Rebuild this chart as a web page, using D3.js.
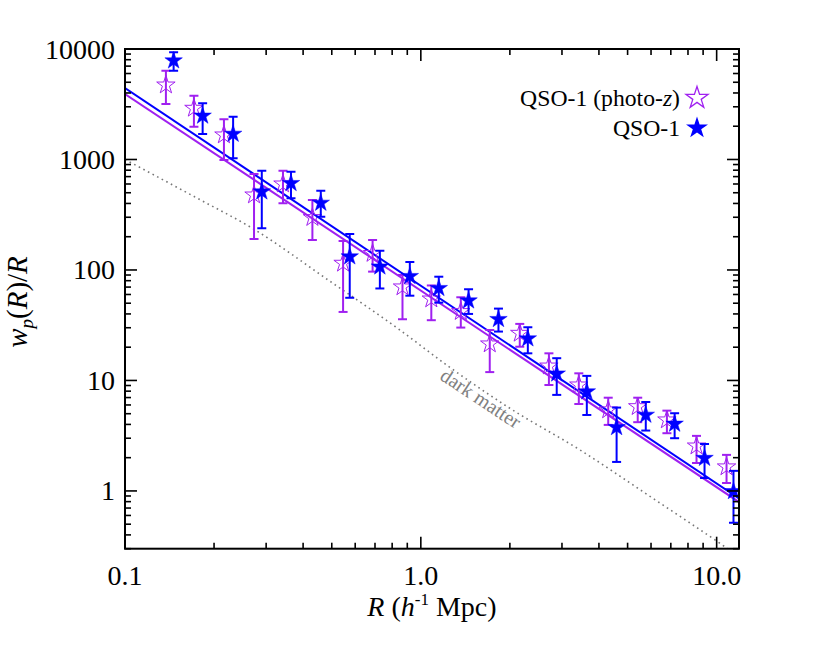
<!DOCTYPE html>
<html>
<head>
<meta charset="utf-8">
<script src="https://cdn.jsdelivr.net/npm/d3@7"></script>
<style>
body { margin: 0; background: #fff; }
svg text { font-family: "Liberation Serif", "Times New Roman", Times, "DejaVu Serif", serif; }
</style>
</head>
<body>
<svg width="830" height="662" font-family="Liberation Serif, Times New Roman, serif"></svg>
<script>
// QSO-1 (filled blue stars)
var qsoR  = [0.146, 0.183, 0.232, 0.290, 0.364, 0.459, 0.575, 0.727, 0.918, 1.15, 1.45, 1.83, 2.30, 2.88, 3.64, 4.59, 5.76, 7.21, 9.10, 11.4];
var qsoW  = [7840, 2480, 1700, 511, 609, 404, 132, 107, 87.7, 68.3, 52.7, 35.8, 23.9, 11.5, 7.92, 3.76, 4.87, 4.04, 1.98, 0.99];
var qsoLo = [6360, 1700, 1025, 238, 446, 303, 56, 68, 58.5, 50.6, 40, 27.7, 17.6, 7.4, 4.87, 1.83, 3.52, 3.0, 1.31, 0.516];
var qsoHi = [9330, 3226, 2440, 792, 776, 522, 212, 149, 118, 86.9, 66.9, 44.7, 30.3, 15.9, 11.0, 5.68, 6.38, 5.05, 2.66, 1.52];

// QSO-1 photo-z (open purple stars)
var photR  = [0.1375, 0.171, 0.216, 0.273, 0.342, 0.430, 0.546, 0.687, 0.867, 1.085, 1.365, 1.71, 2.16, 2.71, 3.42, 4.30, 5.41, 6.79, 8.55, 10.8];
var photW  = [4720, 2906, 1667, 477, 600, 298, 115, 141, 70.2, 54.6, 42.0, 21.4, 26.7, 13.5, 9.1, 5.41, 5.79, 4.39, 2.55, 1.65];
var photLo = [3180, 1980, 989, 191, 402, 187, 41.7, 96.6, 35.8, 35.1, 30.1, 11.9, 20.2, 9.1, 6.12, 3.96, 4.19, 3.33, 1.79, 1.18];
var photHi = [6360, 3780, 2310, 739, 792, 430, 183, 187, 90.1, 72.4, 56.6, 28.6, 32.5, 17.6, 11.6, 6.98, 6.98, 5.33, 3.15, 2.12];

// power-law fits, end points [R, wp/R]
var qsoFit  = [[0.1, 4436], [11.9, 0.855]];
var photFit = [[0.1, 3917], [11.9, 0.793]];

// dark matter curve
var dmR = [0.1, 0.18, 0.265, 0.5, 0.85, 1.25, 2.0, 3.45, 6.0, 10.8, 12];
var dmW = [1000, 430, 245, 77, 28.6, 13.2, 5.6, 2.35, 0.88, 0.305, 0.25];

var xTicks = [0.1, 1, 10];
var xTickLabels = ["0.1", "1.0", "10.0"];
var yTicks = [1, 10, 100, 1000, 10000];
var yTickLabels = ["1", "10", "100", "1000", "10000"];

var blue = "#0000ff",
    purple = "#a020f0";

var svg = d3.select("svg");

var x = d3.scaleLog().domain([0.1, 11.9]).range([125, 739]);
var y = d3.scaleLog().domain([0.3, 10000]).range([548.7, 49]);

var x0 = x.range()[0], x1 = x.range()[1],
    yb = y.range()[0], yt = y.range()[1];

svg.append("clipPath").attr("id", "plotclip")
    .append("rect")
    .attr("x", x0).attr("y", yt)
    .attr("width", x1 - x0).attr("height", yb - yt);

var plot = svg.append("g").attr("clip-path", "url(#plotclip)");

// minor tick values
var xMinor = [], yMinor = [];
[0.1, 1].forEach(function(dec) {
    for (var m = 2; m <= 9; m++) xMinor.push(m * dec);
});
[0.1, 1, 10, 100, 1000].forEach(function(dec) {
    for (var m = 2; m <= 9; m++) {
        var v = m * dec;
        if (v >= 0.3 && v < 10000) yMinor.push(v);
    }
});

var ticks = svg.append("g")
    .attr("stroke", "#000")
    .attr("stroke-width", 1.6);

function xtick(v, len) {
    ticks.append("line").attr("x1", x(v)).attr("x2", x(v)).attr("y1", yb).attr("y2", yb - len);
    ticks.append("line").attr("x1", x(v)).attr("x2", x(v)).attr("y1", yt).attr("y2", yt + len);
}
function ytick(v, len) {
    ticks.append("line").attr("y1", y(v)).attr("y2", y(v)).attr("x1", x0).attr("x2", x0 + len);
    ticks.append("line").attr("y1", y(v)).attr("y2", y(v)).attr("x1", x1).attr("x2", x1 - len);
}
xTicks.forEach(function(v) { xtick(v, 12); });
xMinor.forEach(function(v) { xtick(v, 6); });
yTicks.forEach(function(v) { ytick(v, 12); });
yMinor.forEach(function(v) { ytick(v, 6); });

// tick labels
svg.append("g").selectAll("text")
    .data(xTicks)
    .enter().append("text")
    .attr("x", function(d) { return x(d); })
    .attr("y", 585)
    .attr("text-anchor", "middle")
    .attr("font-size", 28)
    .text(function(d, i) { return xTickLabels[i]; });

svg.append("g").selectAll("text")
    .data(yTicks)
    .enter().append("text")
    .attr("x", 115)
    .attr("y", function(d) { return y(d) + 9.5; })
    .attr("text-anchor", "end")
    .attr("font-size", 28)
    .text(function(d, i) { return yTickLabels[i]; });

// dark matter dotted curve
var line = d3.line()
    .x(function(d) { return x(d[0]); })
    .y(function(d) { return y(d[1]); });

plot.append("path")
    .datum(dmR.map(function(r, i) { return [r, dmW[i]]; }))
    .attr("d", line.curve(d3.curveMonotoneX))
    .attr("fill", "none")
    .attr("stroke", "#777")
    .attr("stroke-width", 1.6)
    .attr("stroke-dasharray", "1.6,3.6");

line.curve(d3.curveLinear);

plot.append("path")
    .datum(photFit)
    .attr("d", line)
    .attr("fill", "none")
    .attr("stroke", purple)
    .attr("stroke-width", 2);

plot.append("path")
    .datum(qsoFit)
    .attr("d", line)
    .attr("fill", "none")
    .attr("stroke", blue)
    .attr("stroke-width", 2);

// error bars + stars
function drawSeries(R, W, lo, hi, color, filled) {
    var pts = R.map(function(r, i) { return {r: r, w: W[i], lo: lo[i], hi: hi[i]}; });
    var g = plot.append("g");
    var eb = g.selectAll("g.eb")
        .data(pts)
        .enter().append("g")
        .attr("class", "eb")
        .attr("stroke", color)
        .attr("stroke-width", 2);
    eb.append("line")
        .attr("x1", function(d) { return x(d.r); })
        .attr("x2", function(d) { return x(d.r); })
        .attr("y1", function(d) { return y(d.lo); })
        .attr("y2", function(d) { return y(d.hi); });
    eb.append("line")
        .attr("x1", function(d) { return x(d.r) - 4.5; })
        .attr("x2", function(d) { return x(d.r) + 4.5; })
        .attr("y1", function(d) { return y(d.lo); })
        .attr("y2", function(d) { return y(d.lo); });
    eb.append("line")
        .attr("x1", function(d) { return x(d.r) - 4.5; })
        .attr("x2", function(d) { return x(d.r) + 4.5; })
        .attr("y1", function(d) { return y(d.hi); })
        .attr("y2", function(d) { return y(d.hi); });

    g.selectAll("path.star")
        .data(pts)
        .enter().append("path")
        .attr("class", "star")
        .attr("transform", function(d) { return "translate(" + x(d.r) + "," + y(d.w) + ")"; })
        .attr("d", d3.symbol().type(d3.symbolStar).size(filled ? 95 : 105))
        .attr("fill", filled ? color : "none")
        .attr("stroke", color)
        .attr("stroke-width", filled ? 0.5 : 1);
}

drawSeries(photR, photW, photLo, photHi, purple, false);
drawSeries(qsoR, qsoW, qsoLo, qsoHi, blue, true);

// frame
svg.append("rect")
    .attr("x", x0).attr("y", yt)
    .attr("width", x1 - x0).attr("height", yb - yt)
    .attr("fill", "none")
    .attr("stroke", "#000")
    .attr("stroke-width", 2);

// dark matter label
svg.append("text")
    .attr("transform", "translate(477,404) rotate(33.5)")
    .attr("text-anchor", "middle")
    .attr("font-size", 20)
    .attr("fill", "#808080")
    .text("dark matter");

// legend
var legend = svg.append("g").attr("font-size", 23.7);
var l1 = legend.append("text").attr("x", 680).attr("y", 106).attr("text-anchor", "end");
l1.append("tspan").text("QSO-1 (photo-");
l1.append("tspan").attr("font-style", "italic").text("z");
l1.append("tspan").text(")");
legend.append("text").attr("x", 680).attr("y", 136).attr("text-anchor", "end").text("QSO-1");

legend.append("path")
    .attr("transform", "translate(697,98)")
    .attr("d", d3.symbol().type(d3.symbolStar).size(150))
    .attr("fill", "none")
    .attr("stroke", purple)
    .attr("stroke-width", 1.3);
legend.append("path")
    .attr("transform", "translate(697,128)")
    .attr("d", d3.symbol().type(d3.symbolStar).size(150))
    .attr("fill", blue);

// axis titles
var xt = svg.append("text")
    .attr("x", 432).attr("y", 616)
    .attr("text-anchor", "middle")
    .attr("font-size", 28);
xt.append("tspan").attr("font-style", "italic").text("R");
xt.append("tspan").text(" (");
xt.append("tspan").attr("font-style", "italic").text("h");
xt.append("tspan").attr("font-size", 17).attr("dy", -11).text("-1");
xt.append("tspan").attr("dy", 11).text(" Mpc)");

var yt2 = svg.append("text")
    .attr("transform", "translate(27,302) rotate(-90)")
    .attr("text-anchor", "middle")
    .attr("font-size", 29);
yt2.append("tspan").attr("font-style", "italic").text("w");
yt2.append("tspan").attr("font-style", "italic").attr("font-size", 19).attr("dy", 6).text("p");
yt2.append("tspan").attr("dy", -6).text("(");
yt2.append("tspan").attr("font-style", "italic").text("R");
yt2.append("tspan").text(")/");
yt2.append("tspan").attr("font-style", "italic").text("R");
</script>
</body>
</html>
